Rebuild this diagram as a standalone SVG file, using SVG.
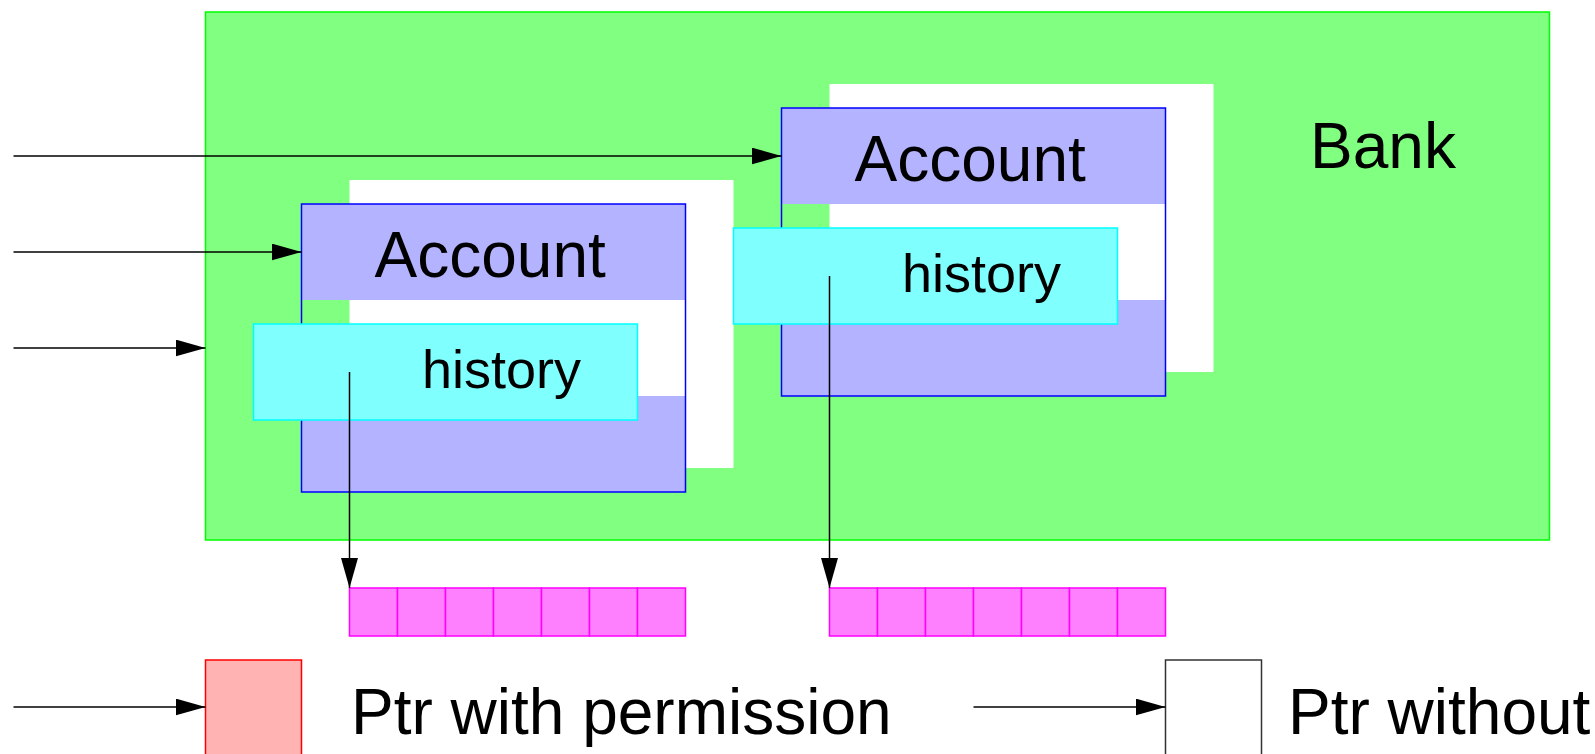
<svg xmlns="http://www.w3.org/2000/svg" width="1595" height="754" viewBox="0 0 1595 754">
  <defs>
    <style>
      .bank { fill: #80ff80; stroke: #00ff00; stroke-width: 1.5; }
      .shadow { fill: #ffffff; stroke: none; }
      .acct-fill { fill: #b3b3ff; stroke: none; }
      .acct-frame { fill: none; stroke: #0000ff; stroke-width: 1.5; }
      .hist { fill: #80ffff; stroke: #00ffff; stroke-width: 1.5; }
      .cell { fill: #ff80ff; stroke: #ff00ff; stroke-width: 1.5; }
      .perm { fill: #ffb3b3; stroke: #ff0000; stroke-width: 1.5; }
      .noperm { fill: #ffffff; stroke: #333333; stroke-width: 1.5; }
      .ptr { fill: none; stroke: #000000; stroke-width: 1.5; marker-end: url(#head); }
      .big { font-family: "Liberation Sans", Arial, sans-serif; font-size: 64px; fill: #000000; }
      .mid { font-family: "Liberation Sans", Arial, sans-serif; font-size: 54px; fill: #000000; }
    </style>
    <marker id="head" markerUnits="userSpaceOnUse" markerWidth="30" markerHeight="17" refX="30" refY="8.5" orient="auto">
      <path d="M0,0 L30,8.5 L0,17 z" fill="#000000"/>
    </marker>
    <!-- one array slot, 48 x 48 -->
    <rect id="slot" class="cell" width="48" height="48"/>
  </defs>

  <!-- Bank container -->
  <g id="bank">
    <rect class="bank" x="205.5" y="12" width="1344" height="528"/>
    <text class="big" x="1310" y="168">Bank</text>
  </g>

  <!-- Right account with its shadow -->
  <g id="account-right">
    <rect class="shadow" x="829.5" y="84" width="384" height="288"/>
    <rect class="acct-fill" x="781.5" y="108" width="384" height="96"/>
    <rect class="acct-fill" x="781.5" y="300" width="384" height="96"/>
    <rect class="acct-frame" x="781.5" y="108" width="384" height="288"/>
    <text class="big" x="854.5" y="181">Account</text>
  </g>

  <!-- Left account with its shadow -->
  <g id="account-left">
    <rect class="shadow" x="349.5" y="180" width="384" height="288"/>
    <rect class="acct-fill" x="301.5" y="204" width="384" height="96"/>
    <rect class="acct-fill" x="301.5" y="396" width="384" height="96"/>
    <rect class="acct-frame" x="301.5" y="204" width="384" height="288"/>
    <text class="big" x="374.5" y="277">Account</text>
  </g>

  <g id="history-right">
    <rect class="hist" x="733.5" y="228" width="384" height="96"/>
    <text class="mid" x="902" y="292">history</text>
  </g>

  <g id="history-left">
    <rect class="hist" x="253.5" y="324" width="384" height="96"/>
    <text class="mid" x="422" y="388">history</text>
  </g>

  <!-- History arrays, seven slots each -->
  <g id="array-left">
    <use href="#slot" x="349.5" y="588"/>
    <use href="#slot" x="397.5" y="588"/>
    <use href="#slot" x="445.5" y="588"/>
    <use href="#slot" x="493.5" y="588"/>
    <use href="#slot" x="541.5" y="588"/>
    <use href="#slot" x="589.5" y="588"/>
    <use href="#slot" x="637.5" y="588"/>
  </g>
  <g id="array-right">
    <use href="#slot" x="829.5" y="588"/>
    <use href="#slot" x="877.5" y="588"/>
    <use href="#slot" x="925.5" y="588"/>
    <use href="#slot" x="973.5" y="588"/>
    <use href="#slot" x="1021.5" y="588"/>
    <use href="#slot" x="1069.5" y="588"/>
    <use href="#slot" x="1117.5" y="588"/>
  </g>

  <!-- Legend -->
  <g id="legend-permission">
    <rect class="perm" x="205.5" y="660" width="96" height="110"/>
    <text class="big" x="351" y="734">Ptr with permission</text>
  </g>
  <g id="legend-no-permission">
    <rect class="noperm" x="1165.5" y="660" width="96" height="110"/>
    <text class="big" x="1288" y="734">Ptr without</text>
  </g>

  <!-- Pointers -->
  <g id="connectors">
    <line class="ptr" x1="13.5" y1="156" x2="781.5" y2="156"/>
    <line class="ptr" x1="13.5" y1="252" x2="301.5" y2="252"/>
    <line class="ptr" x1="13.5" y1="348" x2="205.5" y2="348"/>
    <line class="ptr" x1="349.5" y1="372" x2="349.5" y2="588"/>
    <line class="ptr" x1="829.5" y1="276" x2="829.5" y2="588"/>
    <line class="ptr" x1="13.5" y1="707" x2="205.5" y2="707"/>
    <line class="ptr" x1="973.5" y1="707" x2="1165.5" y2="707"/>
  </g>
</svg>
